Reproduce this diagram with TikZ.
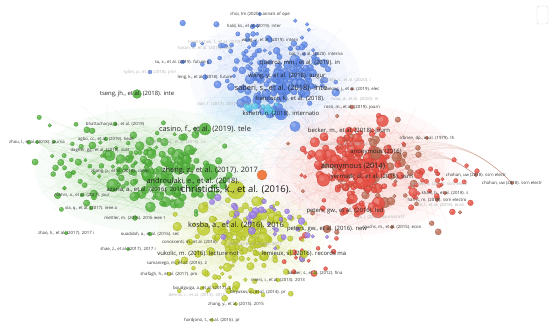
\documentclass[tikz,border=0pt]{standalone}
\usepackage{fontspec}
\setmainfont{Open Sans}
\definecolor{vblue}{RGB}{96,138,232}
\definecolor{vgreen}{RGB}{84,178,62}
\definecolor{vred}{RGB}{230,78,66}
\definecolor{vbrown}{RGB}{186,110,86}
\definecolor{vyellow}{RGB}{192,206,48}
\definecolor{vpurple}{RGB}{158,128,232}
\definecolor{vorange}{RGB}{240,112,50}
\definecolor{vcyan}{RGB}{92,204,236}

% #1 colour, #2/#3 centre, #4/#5 spread, #6 count, #7 extra radius
\newcommand{\ballgroup}[7]{%
  \foreach \k in {1,...,#6}{%
    \pgfmathsetmacro{\bx}{#2+#4*(rand+rand+rand)/1.8}%
    \pgfmathsetmacro{\by}{#3+#5*(rand+rand+rand)/1.8}%
    \pgfmathsetmacro{\br}{1.8+#7*rnd*rnd}%
    \fill[#1, draw=#1!80!black, line width=0.15pt, fill opacity=0.85] (\bx,\by) circle (\br pt);
    \fill[white, opacity=0.2] (\bx-0.3*\br,\by-0.3*\br) circle (0.45*\br pt);
  }}
% #1 colour, #2/#3 centre, #4/#5 spread, #6 count
\newcommand{\edgegroup}[6]{%
  \foreach \k in {1,...,#6}{%
    \pgfmathsetmacro{\ea}{#2+#4*(rand+rand)/1.2}%
    \pgfmathsetmacro{\eb}{#3+#5*(rand+rand)/1.2}%
    \pgfmathsetmacro{\ec}{#2+#4*(rand+rand)/1.2}%
    \pgfmathsetmacro{\ed}{#3+#5*(rand+rand)/1.2}%
    \draw[#1, opacity=0.12, line width=0.3pt] (\ea,\eb) to[bend left=12] (\ec,\ed);
  }}

\begin{document}
\begin{tikzpicture}[
  x=1pt, y=-1pt,
  lbls/.style={font=\fontsize{4.3}{4}\selectfont, text=black!80, inner sep=0pt},
  lblf/.style={font=\fontsize{4.3}{4}\selectfont, text=black!30, inner sep=0pt},
  lblm/.style={font=\fontsize{5.9}{5}\selectfont, text=black!85, inner sep=0pt},
  lblb/.style={font=\fontsize{7.4}{6}\selectfont, text=black!85, inner sep=0pt},
  lblx/.style={font=\fontsize{9.4}{7}\selectfont, text=black!90, inner sep=0pt},
  haze/.style={opacity=0.035},
  longedge/.style={opacity=0.25, line width=0.35pt}
]
\pgfmathsetseed{7}
\fill[white] (0,0) rectangle (550,326);
\useasboundingbox (0,0) rectangle (550,326);

% Background haze of the dense links.
\foreach \s in {1,0.85,0.7,0.55} {
  \fill[vblue, haze] (275,78) ellipse (\s*85pt and \s*60pt);
  \fill[vgreen, haze] (150,170) ellipse (\s*115pt and \s*62pt);
  \fill[vred, haze] (360,170) ellipse (\s*100pt and \s*65pt);
  \fill[vyellow, haze] (240,240) ellipse (\s*85pt and \s*52pt);
  \fill[vcyan, haze] (245,110) ellipse (\s*50pt and \s*22pt);
}

% Links.
\edgegroup{vblue}{275}{80}{55}{40}{150}
\edgegroup{vgreen}{150}{165}{75}{40}{180}
\edgegroup{vred}{360}{170}{60}{45}{180}
\edgegroup{vyellow}{240}{235}{55}{35}{140}
\edgegroup{vpurple}{265}{210}{50}{40}{40}
\edgegroup{vcyan}{260}{130}{50}{35}{60}
\foreach \yy in {150,160,172,185,195} {
  \draw[vbrown, longedge] (512,183) .. controls (460,130) and (420,140) .. (370,\yy);
  \draw[vbrown, longedge] (476,175) .. controls (440,150) .. (350,\yy);
}
\foreach \yy in {130,150,165,180,200,215} {
  \draw[vgreen, longedge] (37,142) -- (150,\yy);
  \draw[vgreen, longedge] (82,195) -- (170,\yy);
}

% Clusters of balls.
\ballgroup{vblue}{260}{45}{65}{25}{40}{2}
\ballgroup{vblue}{278}{82}{45}{30}{150}{4.5}
\ballgroup{vgreen}{85}{160}{50}{35}{45}{2.5}
\ballgroup{vgreen}{165}{168}{55}{32}{160}{5}
\ballgroup{vbrown}{375}{175}{60}{42}{80}{4}
\ballgroup{vred}{355}{168}{45}{35}{170}{6}
\ballgroup{vred}{430}{180}{35}{25}{25}{2}
\ballgroup{vred}{315}{255}{25}{20}{15}{2}
\ballgroup{vyellow}{235}{280}{45}{18}{30}{2}
\ballgroup{vyellow}{245}{232}{45}{28}{130}{5}
\ballgroup{vpurple}{265}{222}{45}{32}{35}{2.5}
\ballgroup{vcyan}{262}{108}{22}{10}{12}{3}

% Prominent items.
\foreach \x/\y/\c/\r in {236/190/vyellow/9, 210/172/vgreen/8, 236/225/vyellow/7,
    205/129/vgreen/6, 281/88/vblue/6, 353/167/vred/8, 376/153/vbrown/6,
    193/181/vgreen/7, 281/114/vblue/6, 262/175/vorange/5, 300/63/vblue/4,
    287/76/vblue/4.5, 137/94/vgreen/4.5, 327/229/vbrown/4, 304/254/vyellow/4,
    345/211/vred/3.5, 349/131/vred/4, 198/254/vyellow/3.5, 145/190/vgreen/4,
    260/14/vblue/1.8, 254/26/vblue/1.8, 270/40/vblue/2.5, 316/54/vblue/1.8,
    182/62/vblue/1.8, 150/72/vblue/2, 205/77/vblue/2.5, 352/89/vbrown/1.6,
    352/107/vbrown/2, 115/124/vgreen/2, 37/142/vgreen/1.8, 106/139/vgreen/2,
    120/171/vgreen/3, 82/195/vgreen/2, 91/208/vgreen/2, 135/218/vgreen/2.5,
    427/138/vbrown/1.8, 476/175/vbrown/1.8, 512/183/vbrown/1.8, 445/193/vbrown/1.8,
    437/200/vbrown/1.8, 392/227/vbrown/1.8, 66/233/vgreen/1.8, 150/234/vgreen/2,
    190/242/vyellow/3, 128/249/vgreen/1.8, 177/263/vyellow/2, 315/273/vyellow/1.8,
    169/274/vyellow/2, 278/280/vyellow/2, 202/288/vyellow/2, 258/292/vyellow/1.8,
    236/304/vyellow/1.8, 212/320/vyellow/1.8} {
  \fill[\c, draw=\c!80!black, line width=0.15pt, fill opacity=0.9] (\x,\y) circle (\r pt);
}

% Labels.
\node[lbls] (choi) at (260,14) {choi, tm (2020). annals of ope};
\node[lbls] (hald) at (254,26) {hald, ks., et al. (2019). inter};
\node[lbls] (wangA) at (270,40) {wang, y., et al. (2019). intern};
\node[lblf] (hawl) at (215,42) {hawlitschek, f., et al. (2018)};
\node[lblf] (hasan) at (205,48) {hasan, h., et al. (2019). ieee};
\node[lbls] (bai) at (316,54) {bai, l., et al. (2020). interna};
\node[lblm] (queiroz) at (300,63) {queiroz, mm., et al. (2019). in};
\node[lbls] (su) at (182,62) {su, x., et al. (2019). future g};
\node[lblf] (sylim) at (150,72) {sylim, p., et al. (2018). jmir};
\node[lbls] (leng) at (205,77) {leng, k., et al. (2018). future};
\node[lblm] (wangB) at (287,76) {wang, y., et al. (2018). augur};
\node[lblf] (kamble) at (346,80) {kamble, s., et al. (2020). i};
\node[lblb] (saberi) at (281,88) {saberi, s., et al. (2018). inte};
\node[lbls] (weking) at (352,89) {weking, j., et al. (2019). elec};
\node[lblm] (tseng) at (137,94) {tseng, jh., et al. (2018). inte};
\node[lblm] (francisco) at (290,99) {francisco, k., et al. (2018).};
\node[lblf] (mao) at (355,99) {mao, d., et al. (2020). in};
\node[lblf] (tian) at (225,104) {tian, f. (2017). 2017 14th int};
\node[lbls] (rossi) at (352,107) {rossi, m., et al. (2019). journ};
\node[lblm] (kshetri) at (281,114) {kshetri, n. (2018). internatio};
\node[lbls] (bhatt) at (115,124) {bhattacharya, p., et al. (2019)};
\node[lblb] (casino) at (205,129) {casino, f., et al. (2019). tele};
\node[lblm] (becker) at (349,131) {becker, m., et al. (2018). journ};
\node[lbls] (obrien) at (427,138) {o'brien, dp., et al. (1979). th};
\node[lbls] (agbo) at (106,139) {agbo, cc., et al. (2019). healt};
\node[lbls] (zhou) at (37,142) {zhou, l., et al. (2018). journa};
\node[lblf] (gordon) at (178,142) {gordon, wj., et al. (2018). co};
\node[lbls] (dagher) at (100,150) {dagher, gg., et al. (2018). sust};
\node[lblf] (tapscott) at (345,144) {tapscott, d., et al. (2016). (};
\node[lblm] (anon16) at (376,152) {anonymous (2016)};
\node[lblb] (anon14) at (353,167) {anonymous (2014)};
\node[lbls] (zhangP) at (120,171) {zhang, p., et al. (2018). comp};
\node[lblb] (zheng) at (210,171) {zheng, z., et al. (2017). 2017};
\node[lbls] (chohanA) at (476,175) {chohan, uw (2018). ssrn electr};
\node[lblm] (yermack) at (372,177) {yermack, d., et al. (2015). ssrn};
\node[lblb] (androulaki) at (193,181) {androulaki, e., et al. (2018).};
\node[lbls] (chohanB) at (512,183) {chohan, uw (2018). ssrn electr};
\node[lblf] (kewell) at (440,184) {kewell, b. (2017). ssrn electr};
\node[lblm] (azaria) at (145,190) {azaria, a., et al. (2016). 2016};
\node[lblx] (christidis) at (236,190) {christidis, k., et al. (2016).};
\node[lbls] (khalil) at (445,193) {khalil, h., et al. (2018). s};
\node[lbls] (roehrs) at (82,195) {roehrs, a., et al. (2017). jour};
\node[lbls] (harris) at (437,200) {harris, m. (2018). ssrn electro};
\node[lblf] (ali) at (441,205) {ali, l., et al. (2018). econ};
\node[lbls] (xia) at (91,208) {xia, q., et al. (2017). ieee a};
\node[lblm] (petersA) at (345,211) {peters, gw., et al. (2016). led};
\node[lblf] (yli) at (381,217) {yli, j. (2016). journal of f};
\node[lbls] (mettler) at (135,218) {mettler, m. (2016). 2016 ieee 1};
\node[lblb] (kosba) at (236,225) {kosba, a., et al. (2016). 2016};
\node[lblm] (petersB) at (327,229) {peters, gw., et al. (2016). new};
\node[lbls] (rauchs) at (392,227) {rauchs, m., et al. (2015). econ};
\node[lbls] (zhaoH) at (66,233) {zhao, h., et al. (2017). 2017 i};
\node[lbls] (ouaddah) at (150,234) {ouaddah, a., et al. (2016). sec};
\node[lbls] (conoscenti) at (190,242) {conoscenti, m., et al. (2016).};
\node[lblf] (dorri) at (255,244) {dorri, a., et al. (2016). 2017};
\node[lbls] (shae) at (128,249) {shae, z., et al. (2017). 2017 i};
\node[lblm] (vukolic) at (198,254) {vukolic, m. (2016). lecture not};
\node[lblm] (lemieux) at (304,254) {lemieux, vl. (2016). records ma};
\node[lbls] (samaniego) at (177,263) {samaniego, m., et al. (2016). 2};
\node[lbls] (barber) at (315,273) {barber, s., et al. (2012). fina};
\node[lbls] (shafagh) at (169,274) {shafagh, h., et al. (2017). pro};
\node[lbls] (miers) at (278,280) {miers, i., et al. (2013). 2013};
\node[lbls] (boudguiga) at (202,288) {boudguiga, a., et al. (2017). 2};
\node[lbls] (biryukov) at (258,292) {biryukov, a., et al. (2014). pr};
\node[lblf] (dennis) at (197,295) {dennis, r., et al. (2015). 2015};
\node[lbls] (zhangY) at (236,304) {zhang, y., et al. (2015). 2015};
\node[lbls] (hardjono) at (212,320) {hardjono, t., et al. (2016). pr};

% Faded zoom control.
\draw[black!15, rounded corners=2pt, line width=0.4pt] (537,6) rectangle (548,24);
\end{tikzpicture}
\end{document}
